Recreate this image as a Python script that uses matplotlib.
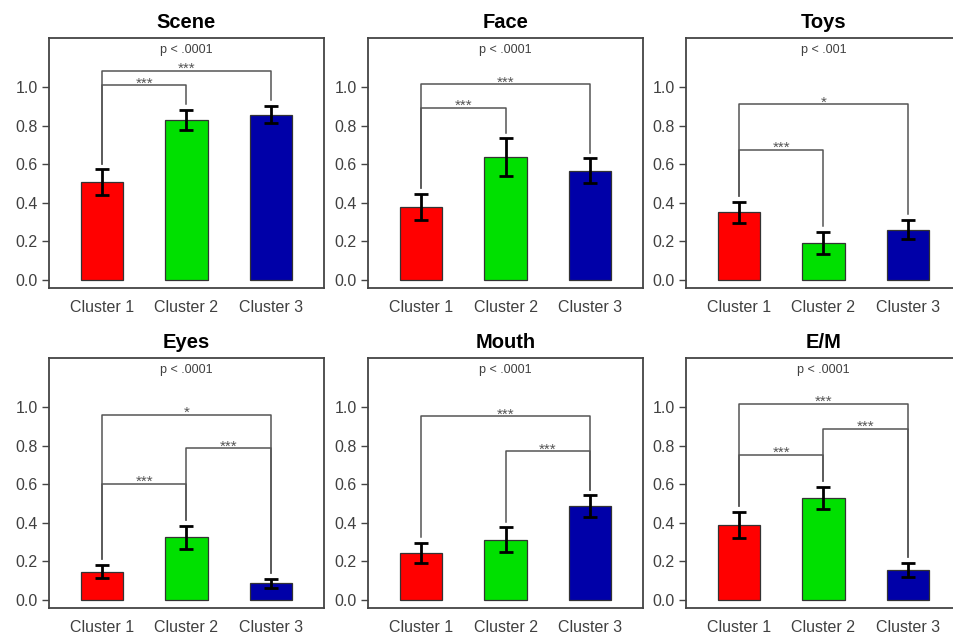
import matplotlib
matplotlib.use("Agg")
import matplotlib.pyplot as plt

plt.rcParams['font.family'] = ['Liberation Sans', 'DejaVu Sans']

clusters = ["Cluster 1", "Cluster 2", "Cluster 3"]
colors = ["#ff0000", "#00e000", "#0000a8"]
yticks = [0.0, 0.2, 0.4, 0.6, 0.8, 1.0]

titles = ["Scene", "Face", "Toys", "Eyes", "Mouth", "E/M"]
pvals = ["p < .0001", "p < .0001", "p < .001", "p < .0001", "p < .0001", "p < .0001"]

scene_mean = [0.508, 0.830, 0.857]
scene_err = [0.065, 0.050, 0.045]
face_mean = [0.378, 0.637, 0.567]
face_err = [0.068, 0.097, 0.063]
toys_mean = [0.352, 0.193, 0.262]
toys_err = [0.054, 0.058, 0.049]
eyes_mean = [0.148, 0.325, 0.087]
eyes_err = [0.036, 0.060, 0.022]
mouth_mean = [0.244, 0.313, 0.486]
mouth_err = [0.053, 0.063, 0.056]
em_mean = [0.389, 0.529, 0.155]
em_err = [0.069, 0.056, 0.038]

# brackets: (from cluster index, to cluster index, height, label)
scene_br = [(0, 2, 1.085, "***"), (0, 1, 1.010, "***")]
face_br = [(0, 2, 1.014, "***"), (0, 1, 0.893, "***")]
toys_br = [(0, 2, 0.910, "*"), (0, 1, 0.676, "***")]
eyes_br = [(0, 2, 0.960, "*"), (1, 2, 0.787, "***"), (0, 1, 0.602, "***")]
mouth_br = [(0, 2, 0.953, "***"), (1, 2, 0.770, "***")]
em_br = [(0, 2, 1.017, "***"), (1, 2, 0.887, "***"), (0, 1, 0.754, "***")]

means = [scene_mean, face_mean, toys_mean, eyes_mean, mouth_mean, em_mean]
errs = [scene_err, face_err, toys_err, eyes_err, mouth_err, em_err]
brackets = [scene_br, face_br, toys_br, eyes_br, mouth_br, em_br]

W, H = 954, 637
fig = plt.figure(figsize=(W / 100, H / 100), dpi=100)

col_left = [49, 368, 686]
row_top = [38, 358]
aw, ah = 275, 250

spine_col = "#444444"
text_col = "#404040"
line_col = "#555555"

for k in range(6):
    r, c = divmod(k, 3)
    x0 = col_left[c]
    y0 = row_top[r]
    ax = fig.add_axes([x0 / W, (H - y0 - ah) / H, aw / W, ah / H])
    xs = [1, 2, 3]
    ax.bar(xs, means[k], width=0.5, color=colors, edgecolor="#333333", linewidth=0.9, zorder=2)
    ax.errorbar(xs, means[k], yerr=errs[k], fmt="none", ecolor="black",
                elinewidth=2.0, capsize=5, capthick=2.0, zorder=3)
    for (i, j, h, lab) in brackets[k]:
        bi = means[k][i] + errs[k][i] + 0.03
        bj = means[k][j] + errs[k][j] + 0.03
        ax.plot([xs[i], xs[i], xs[j], xs[j]], [bi, h, h, bj], color=line_col,
                linewidth=1.1, zorder=1)
        ax.text((xs[i] + xs[j]) / 2, h - 0.012, lab, ha="center", va="baseline",
                fontsize=11, color="#555555")
    ax.text(0.5, 1.19, pvals[k], transform=ax.get_yaxis_transform(), ha="center",
            va="center", fontsize=9, color="#404040")
    ax.set_xlim(0.373, 3.627)
    ax.set_ylim(-0.041, 1.254)
    ax.set_xticks(xs)
    ax.set_xticklabels(clusters)
    ax.set_yticks(yticks)
    ax.set_yticklabels([f"{v:.1f}" for v in yticks])
    ax.tick_params(axis="x", length=0, pad=9, labelsize=11.5, labelcolor=text_col)
    ax.tick_params(axis="y", length=5, width=1.0, color=spine_col, pad=3,
                   labelsize=11.5, labelcolor=text_col)
    for s in ax.spines.values():
        s.set_color(spine_col)
        s.set_linewidth(1.3)
    ax.set_title(titles[k], fontsize=14.5, fontweight="bold", pad=7, color="black")

fig.savefig("out.png", dpi=100)
